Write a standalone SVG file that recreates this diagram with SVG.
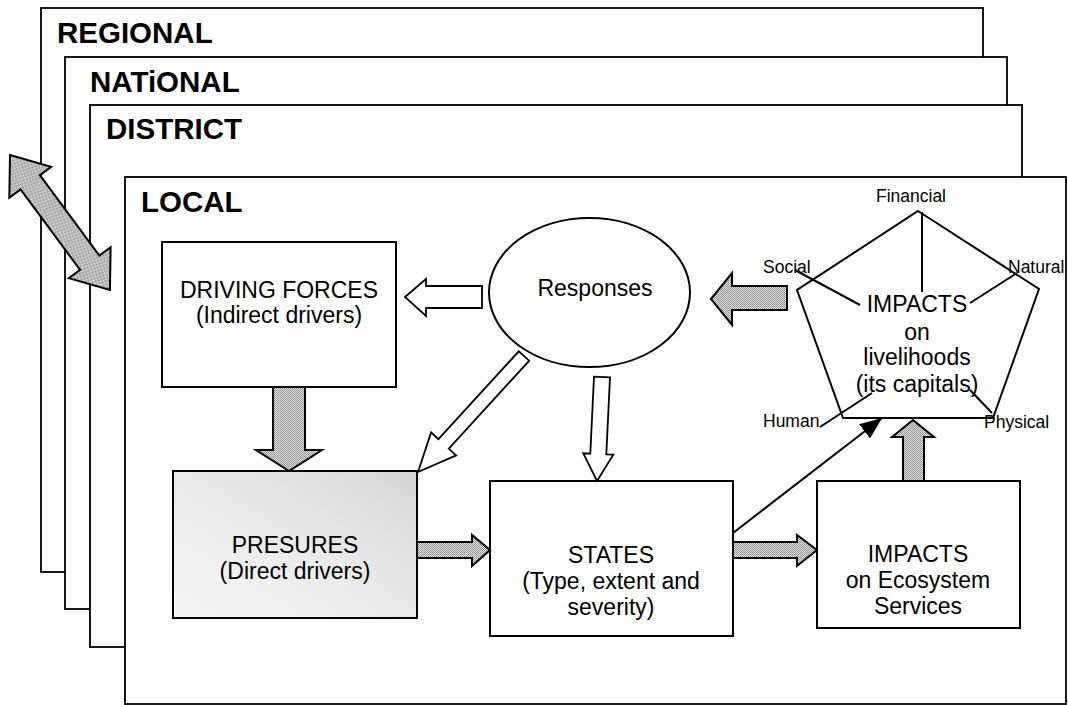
<svg xmlns="http://www.w3.org/2000/svg" width="1068" height="705" viewBox="0 0 1068 705">
  <defs>
    <!-- dithered grey used for the block arrows -->
    <pattern id="stipple" width="2" height="2" patternUnits="userSpaceOnUse">
      <rect width="2" height="2" fill="#e2e2e2"/>
      <rect width="1" height="1" fill="#8a8a8a"/>
      <rect x="1" y="1" width="1" height="1" fill="#9a9a9a"/>
    </pattern>
    <linearGradient id="pressureFill" x1="0" y1="1" x2="1" y2="0">
      <stop offset="0" stop-color="#f6f6f6"/>
      <stop offset="0.55" stop-color="#e9e9e9"/>
      <stop offset="1" stop-color="#d6d6d6"/>
    </linearGradient>
    <marker id="head" markerWidth="24" markerHeight="20" refX="22" refY="10" orient="auto" markerUnits="userSpaceOnUse">
      <path d="M0,1 L22,10 L0,19 z" fill="#000"/>
    </marker>
    <style>
      .frame { fill: #fff; stroke: #000; stroke-width: 1.8; }
      .frameLabel { font-family: "Liberation Sans", Arial, sans-serif; font-weight: bold; font-size: 29.5px; fill: #000; }
      .box { fill: #fff; stroke: #000; stroke-width: 2; }
      .label { font-family: "Liberation Sans", Arial, sans-serif; font-size: 23px; fill: #000; text-anchor: middle; }
      .small { font-family: "Liberation Sans", Arial, sans-serif; font-size: 17.5px; fill: #000; }
      .grey { fill: url(#stipple); stroke: #000; stroke-width: 2; stroke-linejoin: miter; }
      .hollow { fill: #fff; stroke: #000; stroke-width: 1.8; stroke-linejoin: miter; }
      .thin { fill: none; stroke: #000; stroke-width: 2; }
    </style>
  </defs>

  <rect width="1068" height="705" fill="#fff"/>

  <!-- nested scale frames -->
  <g id="regional">
    <rect class="frame" x="41" y="8" width="942" height="564"/>
    <text class="frameLabel" x="57" y="43">REGIONAL</text>
  </g>
  <g id="national">
    <rect class="frame" x="65" y="57" width="942" height="552"/>
    <text class="frameLabel" x="90" y="92">NATiONAL</text>
  </g>
  <g id="district">
    <rect class="frame" x="90" y="105" width="932" height="542"/>
    <text class="frameLabel" x="106" y="139">DISTRICT</text>
  </g>

  <!-- two-way link between scales -->
  <g id="scale-link">
    <polygon class="grey" transform="translate(10,155) rotate(53.5)"
      points="0,0 34,-26 34,-12 134,-12 134,-26 168,0 134,26 134,12 34,12 34,26"/>
  </g>

  <g id="local">
    <rect class="frame" x="125" y="177" width="941" height="527"/>
    <text class="frameLabel" x="141" y="212">LOCAL</text>
  </g>

  <g id="driving-forces">
    <rect class="box" x="162" y="242" width="234" height="145"/>
    <text class="label" x="279" y="298">DRIVING FORCES</text>
    <text class="label" x="279" y="323">(Indirect drivers)</text>
  </g>

  <g id="pressures">
    <rect class="box" x="173" y="471" width="244" height="147" style="fill:url(#pressureFill)"/>
    <text class="label" x="295" y="553">PRESURES</text>
    <text class="label" x="295" y="579">(Direct drivers)</text>
  </g>

  <g id="states">
    <rect class="box" x="490" y="481" width="243" height="155"/>
    <text class="label" x="611" y="563">STATES</text>
    <text class="label" x="611" y="589">(Type, extent and</text>
    <text class="label" x="611" y="615">severity)</text>
  </g>

  <g id="impacts-ecosystem">
    <rect class="box" x="817" y="481" width="203" height="147"/>
    <text class="label" x="918" y="562">IMPACTS</text>
    <text class="label" x="918" y="588">on Ecosystem</text>
    <text class="label" x="918" y="614">Services</text>
  </g>

  <g id="responses">
    <ellipse class="box" cx="589.5" cy="292.5" rx="100.5" ry="74.5"/>
    <text class="label" x="595" y="296">Responses</text>
  </g>

  <g id="impacts-livelihoods">
    <polygon class="box" points="918,211 1039,289 993,418 843,418 797,290"/>
    <g class="thin">
      <line x1="922" y1="212" x2="922" y2="292"/>
      <line x1="795" y1="270" x2="860" y2="305"/>
      <line x1="1017" y1="273" x2="970" y2="303"/>
      <line x1="820" y1="427" x2="872" y2="393"/>
      <line x1="970" y1="390" x2="992" y2="413"/>
    </g>
    <text class="small" x="911" y="202" text-anchor="middle">Financial</text>
    <text class="small" x="763" y="273">Social</text>
    <text class="small" x="1008" y="273">Natural</text>
    <text class="small" x="763" y="427">Human</text>
    <text class="small" x="984" y="428">Physical</text>
    <text class="label" x="917" y="312">IMPACTS</text>
    <text class="label" x="917" y="340">on</text>
    <text class="label" x="917" y="365">livelihoods</text>
    <text class="label" x="917" y="392">(its capitals)</text>
  </g>

  <g id="connectors">
    <!-- grey block arrows -->
    <polygon class="grey" points="289,471 256,450 273,450 273,387 305,387 305,450 322,450"/>
    <polygon class="grey" points="490,550 472,535 472,542 417,542 417,558 472,558 472,566"/>
    <polygon class="grey" points="817,550 797,535 797,542 733,542 733,558 797,558 797,566"/>
    <polygon class="grey" points="913,420 892,437 903,437 903,481 924,481 924,437 934,437"/>
    <polygon class="grey" points="711,299 732,273 732,286 787,286 787,310 732,310 732,325"/>
    <!-- hollow arrows from Responses -->
    <polygon class="hollow" points="405,297 426,279 426,286 482,286 482,308 426,308 426,316"/>
    <polygon class="hollow" points="418,472 456.1,455.4 448.8,448.6 529.2,360.7 518.8,351.3 438.4,439.2 431.1,432.4"/>
    <polygon class="hollow" points="597,481 613.3,454.7 606.3,454.4 610,377.4 594,376.6 590.3,453.6 583.3,453.3"/>
    <!-- thin arrow from states to livelihoods -->
    <line class="thin" x1="733" y1="533" x2="882" y2="418" marker-end="url(#head)"/>
  </g>
</svg>
